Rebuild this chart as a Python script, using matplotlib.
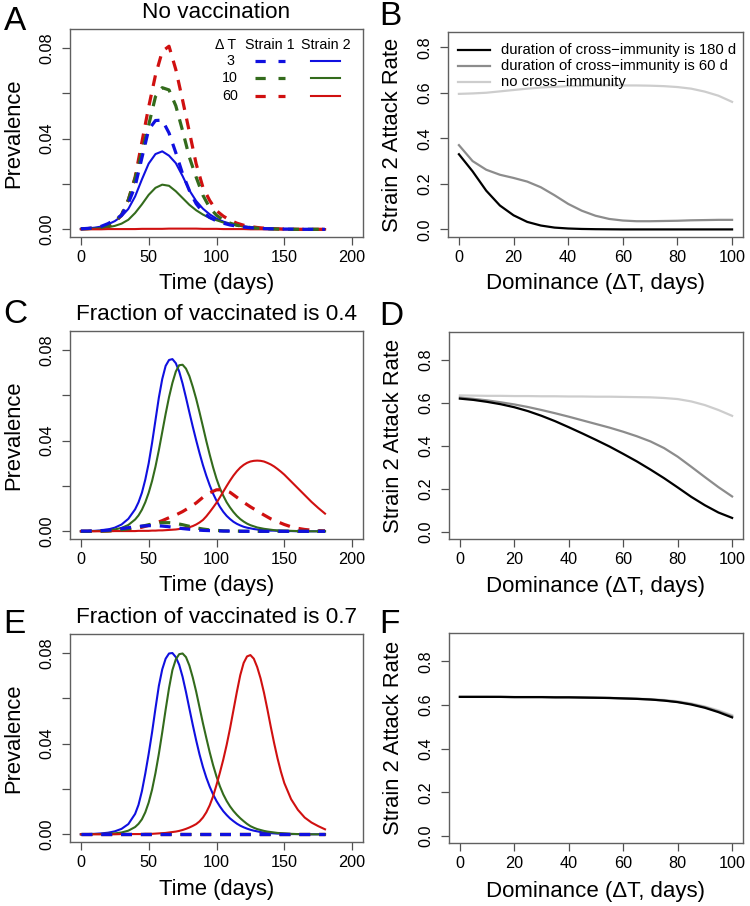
import matplotlib
matplotlib.use("Agg")
import matplotlib.pyplot as plt

plt.rcParams['font.family'] = ['Liberation Sans', 'DejaVu Sans']

# ---- data ----
days = [0, 5, 10, 15, 20, 25, 30, 35, 40, 45, 50, 55, 60, 65, 70, 75, 80, 85, 90,
        95, 100, 105, 110, 115, 120, 125, 130, 135, 140, 145, 150, 155, 160, 165,
        170, 175, 180]
# finer sampling around the sharp peaks of panels C and E (strain 2)
days_fine = [0, 5, 10, 15, 20, 25, 30, 35,
             40, 42.5, 45, 47.5, 50, 52.5, 55, 57.5, 60, 62.5,
             65, 67.5, 70, 72.5, 75, 77.5, 80, 82.5, 85, 87.5,
             90, 92.5, 95, 97.5, 100, 102.5, 105, 107.5, 110, 112.5,
             115, 117.5, 120, 122.5, 125, 127.5, 130, 132.5, 135, 137.5,
             140, 142.5, 145, 147.5, 150,
             155, 160, 165, 170, 175, 180]

# panel A: no vaccination
a_s1_dt3 = [.0002, .0004, .0007, .0013, .0025, .0042, .0062, .0115, .0190, .0315, .0440, .0480,
            .0482, .0425, .0338, .0245, .0171, .0113, .0075, .0052, .0037, .0027, .0019, .0014,
            .0010, .0007, .0005, .0003, .0002, .0002, .0001, .0001, 0, 0, 0, 0, 0]
a_s1_dt10 = [.0002, .0003, .0005, .0009, .0016, .0031, .0064, .0130, .0225, .0340, .0460, .0585,
             .0625, .0615, .0545, .0435, .0318, .0230, .0150, .0095, .0062, .0040, .0027, .0018,
             .0012, .0008, .0005, .0003, .0002, .0001, 0, 0, 0, 0, 0, 0, 0]
a_s1_dt60 = [.0002, .0003, .0005, .0009, .0015, .0030, .0063, .0130, .0230, .0385, .0540, .0680,
             .0785, .0808, .0705, .0570, .0430, .0289, .0185, .0127, .0082, .0058, .0040, .0027,
             .0018, .0012, .0008, .0005, .0003, .0002, .0001, .0001, 0, 0, 0, 0, 0]
a_s2_dt3 = [.0002, .0004, .0007, .0012, .0022, .0036, .0057, .0090, .0145, .0220, .0290, .0332,
            .0344, .0325, .0292, .0235, .0172, .0125, .0091, .0066, .0047, .0034, .0025, .0018,
            .0013, .0009, .0006, .0004, .0003, .0002, .0001, .0001, 0, 0, 0, 0, 0]
a_s2_dt10 = [.0001, .0002, .0003, .0005, .0009, .0015, .0025, .0042, .0072, .0110, .0152, .0183,
             .0197, .0192, .0168, .0138, .0108, .0084, .0065, .0050, .0040, .0030, .0023, .0017,
             .0012, .0009, .0006, .0004, .0003, .0002, .0001, .0001, 0, 0, 0, 0, 0]
a_s2_dt60 = [0, 0, 0, 0, .0001, .0001, .0001, .0001, .0001, .0002, .0002, .0002,
             .0002, .0003, .0003, .0003, .0003, .0003, .0002, .0002, .0002, .0001, .0001, .0001,
             .0001, 0, 0, 0, 0, 0, 0, 0, 0, 0, 0, 0, 0]

# panel C: 40% vaccinated (strain 1 on `days`, strain 2 on `days_fine`)
c_s1_dt3 = [.0001, .0001, .0002, .0003, .0005, .0008, .0012, .0016, .0020, .0023, .0025, .0025,
            .0023, .0020, .0016, .0012, .0009, .0006, .0004, .0003, .0002, .0001, .0001, 0,
            0, 0, 0, 0, 0, 0, 0, 0, 0, 0, 0, 0, 0]
c_s1_dt10 = [0, 0, .0001, .0001, .0002, .0004, .0007, .0011, .0016, .0022, .0029, .0035,
             .0038, .0038, .0035, .0029, .0022, .0015, .0010, .0006, .0004, .0002, .0001, .0001,
             0, 0, 0, 0, 0, 0, 0, 0, 0, 0, 0, 0, 0]
c_s1_dt60 = [0, 0, .0001, .0001, .0002, .0003, .0005, .0008, .0012, .0018, .0026, .0036,
             .0047, .0060, .0072, .0087, .0105, .0125, .0150, .0170, .0183, .0184, .0172, .0150,
             .0128, .0108, .0090, .0072, .0055, .0042, .0030, .0020, .0013, .0008, .0005, .0003, .0002]
c_s2_dt3 = [0, .0001, .0002, .0004, .0008, .0016, .0030, .0055,
            .0097, .0128, .0170, .0228, .0300, .0390, .0490, .0590, .0672, .0730,
            .0756, .0760, .0742, .0705, .0652, .0590, .0525, .0462, .0402, .0345,
            .0292, .0245, .0203, .0166, .0135, .0108, .0086, .0068, .0054, .0042,
            .0033, .0026, .0020, .0016, .0013, .0010, .0008, .0006, .0005, .0004,
            .0003, .0003, .0002, .0002, .0001,
            .0001, 0, 0, 0, 0, 0]
c_s2_dt10 = [0, .0001, .0001, .0002, .0004, .0008, .0015, .0028,
             .0052, .0070, .0095, .0128, .0170, .0222, .0285, .0358, .0438, .0518,
             .0592, .0655, .0705, .0733, .0735, .0718, .0685, .0638, .0585, .0525,
             .0462, .0398, .0338, .0282, .0232, .0190, .0157, .0128, .0105, .0085,
             .0068, .0054, .0043, .0034, .0027, .0022, .0017, .0014, .0011, .0009,
             .0007, .0005, .0004, .0003, .0003,
             .0002, .0001, 0, 0, 0, 0]
c_s2_dt60 = [0, 0, 0, 0, 0, .0001, .0001, .0001,
             .0001, .0002, .0002, .0002, .0002, .0003, .0003, .0004, .0004, .0005,
             .0006, .0007, .0008, .0010, .0012, .0015, .0018, .0023, .0030, .0039,
             .0050, .0066, .0085, .0105, .0126, .0150, .0175, .0200, .0224, .0246,
             .0265, .0281, .0293, .0302, .0308, .0311, .0312, .0311, .0308, .0302,
             .0295, .0286, .0275, .0263, .0250,
             .0220, .0190, .0160, .0130, .0103, .0078]

# panel E: 70% vaccinated
e_s1_dt3 = [0, 0, 0, 0, 0, 0, 0, 0, 0, 0, 0, 0, 0, 0, 0, 0, 0, 0, 0,
            0, 0, 0, 0, 0, 0, 0, 0, 0, 0, 0, 0, 0, 0, 0, 0, 0, 0]
e_s1_dt10 = [0, 0, 0, 0, 0, 0, 0, 0, 0, 0, 0, 0, 0, 0, 0, 0, 0, 0, 0,
             0, 0, 0, 0, 0, 0, 0, 0, 0, 0, 0, 0, 0, 0, 0, 0, 0, 0]
e_s1_dt60 = [0, 0, 0, 0, 0, 0, 0, 0, 0, 0, 0, 0, 0, 0, 0, 0, 0, 0, 0,
             0, 0, 0, 0, 0, 0, 0, 0, 0, 0, 0, 0, 0, 0, 0, 0, 0, 0]
e_s2_dt3 = [0, .0001, .0002, .0004, .0007, .0013, .0024, .0045,
            .0090, .0130, .0190, .0268, .0355, .0450, .0555, .0655, .0728, .0775,
            .0798, .0800, .0782, .0748, .0695, .0628, .0555, .0483, .0415, .0352,
            .0297, .0250, .0210, .0176, .0147, .0123, .0102, .0085, .0070, .0058,
            .0047, .0038, .0031, .0025, .0020, .0016, .0013, .0010, .0008, .0007,
            .0005, .0004, .0003, .0003, .0002,
            .0001, .0001, 0, 0, 0, 0]
e_s2_dt10 = [0, 0, .0001, .0001, .0002, .0004, .0008, .0016,
             .0032, .0046, .0066, .0097, .0140, .0197, .0270, .0355, .0450, .0550,
             .0645, .0725, .0772, .0795, .0798, .0782, .0745, .0692, .0630, .0560,
             .0490, .0425, .0362, .0305, .0255, .0212, .0176, .0147, .0123, .0103,
             .0086, .0071, .0058, .0046, .0036, .0029, .0023, .0019, .0015, .0012,
             .0010, .0008, .0006, .0005, .0004,
             .0002, .0001, .0001, 0, 0, 0]
e_s2_dt60 = [0, 0, 0, 0, 0, 0, .0001, .0001,
             .0001, .0001, .0001, .0002, .0002, .0002, .0003, .0004, .0005, .0006,
             .0008, .0010, .0012, .0015, .0019, .0024, .0030, .0037, .0045, .0057,
             .0074, .0097, .0128, .0168, .0218, .0272, .0330, .0395, .0468, .0548,
             .0628, .0702, .0756, .0785, .0791, .0775, .0738, .0688, .0625, .0552,
             .0475, .0402, .0335, .0276, .0226,
             .0155, .0108, .0074, .0052, .0036, .0022]

# right column: strain 2 attack rate vs dominance
dominance = [0, 5, 10, 15, 20, 25, 30, 35, 40, 45, 50, 55, 60, 65, 70, 75, 80, 85, 90, 95, 100]

b_180d = [.330, .255, .170, .105, .062, .033, .017, .008, .004, .002, .001, .0005, 0, 0, 0, 0,
          0, 0, 0, 0, 0]
b_60d = [.370, .300, .262, .240, .226, .210, .185, .150, .112, .082, .060, .046, .039, .036,
         .036, .037, .038, .040, .041, .042, .042]
b_none = [.595, .597, .600, .606, .612, .618, .623, .626, .629, .630, .631, .632, .632, .632,
          .631, .629, .625, .618, .605, .587, .560]

d_180d = [.620, .614, .605, .594, .580, .562, .540, .515, .487, .458, .428, .397, .363, .328,
          .290, .250, .207, .163, .124, .090, .065]
d_60d = [.625, .619, .612, .603, .593, .581, .567, .552, .536, .519, .502, .485, .466, .445,
         .421, .390, .350, .303, .255, .208, .165]
d_none = [.635, .634, .633, .633, .632, .632, .631, .631, .630, .630, .629, .629, .628, .627,
          .626, .623, .618, .607, .590, .567, .540]

f_180d = [.637, .637, .637, .637, .636, .636, .636, .635, .635, .634, .633, .632, .630, .628,
          .625, .620, .613, .602, .587, .567, .543]
f_60d = [.637, .637, .637, .637, .636, .636, .636, .635, .635, .634, .633, .632, .630, .628,
         .625, .621, .614, .604, .590, .570, .548]
f_none = [.638, .638, .638, .637, .637, .637, .637, .636, .636, .635, .634, .633, .631, .629,
          .627, .623, .617, .607, .593, .575, .553]

dt_labels = ['3', '10', '60']
strain_colors = ['#1010e0', '#336b1c', '#d01010']
ar_labels = ['duration of cross\u2212immunity is 180 d',
             'duration of cross\u2212immunity is 60 d',
             'no cross\u2212immunity']
ar_colors = ['black', '#8c8c8c', '#cdcdcd']

W, H = 750, 906
fig = plt.figure(figsize=(W / 100, H / 100), dpi=100)


def add_ax(left, top, right, bottom):
    return fig.add_axes([left / W, 1 - bottom / H, (right - left) / W, (bottom - top) / H])


def r_style(ax):
    for s in ax.spines.values():
        s.set_color('#606060')
        s.set_linewidth(1.0)
    ax.tick_params(direction='out', length=5.5, width=0.9, colors='#505050',
                   labelcolor='black', labelsize=11.7)
    ax.tick_params(axis='x', pad=4)
    ax.tick_params(axis='y', pad=5.5)


def prevalence_panel(ax, t1, s1, t2, s2, title):
    for y, c in zip(s2, strain_colors):
        ax.plot(t2, y, color=c, lw=1.5)
    # strain 1 dashed, blue drawn last so it sits on top near zero
    for y, c in zip(s1[::-1], strain_colors[::-1]):
        ax.plot(t1, y, color=c, lw=2.3, dashes=(3.4, 2.8))
    ax.set_xlim(-8, 208)
    ax.set_ylim(-0.0034, 0.0884)
    ax.set_xticks([0, 50, 100, 150, 200])
    ax.set_yticks([0, 0.02, 0.04, 0.06, 0.08])
    ax.set_yticklabels(['0.00', '', '0.04', '', '0.08'], rotation=90, va='center')
    r_style(ax)
    ax.set_title(title, fontsize=16.2, pad=7.7)
    ax.set_xlabel('Time (days)', fontsize=15.8, va='center')
    ax.xaxis.set_label_coords(0.5, -(284 - 237) / 208)
    ax.set_ylabel('Prevalence', fontsize=15.8, va='center')
    ax.yaxis.set_label_coords((14 - 70) / 293, 0.5)


def attack_panel(ax, series, ylim):
    for y, c in zip(series[::-1], ar_colors[::-1]):
        ax.plot(dominance, y, color=c, lw=1.6)
    ax.set_xlim(-4, 104)
    ax.set_ylim(*ylim)
    ax.set_xticks([0, 20, 40, 60, 80, 100])
    ax.set_yticks([0, 0.2, 0.4, 0.6, 0.8])
    ax.set_yticklabels(['0.0', '0.2', '0.4', '0.6', '0.8'], rotation=90, va='center')
    r_style(ax)
    ax.set_xlabel('Dominance (\u0394T, days)', fontsize=16, va='center')
    ax.xaxis.set_label_coords(0.5, -(284 - 237) / 205)
    ax.set_ylabel('Strain 2 Attack Rate', fontsize=15.8, va='center')
    ax.yaxis.set_label_coords((392 - 448) / 295, 0.5)


axA = add_ax(70, 29, 363, 237)
axB = add_ax(448, 32, 743, 237)
axC = add_ax(70, 331, 363, 539)
axD = add_ax(449, 332, 743, 539)
axE = add_ax(70, 634, 363, 842)
axF = add_ax(449, 633, 743, 843)

prevalence_panel(axA, days, [a_s1_dt3, a_s1_dt10, a_s1_dt60],
                 days, [a_s2_dt3, a_s2_dt10, a_s2_dt60], 'No vaccination')
prevalence_panel(axC, days, [c_s1_dt3, c_s1_dt10, c_s1_dt60],
                 days_fine, [c_s2_dt3, c_s2_dt10, c_s2_dt60], 'Fraction of vaccinated is 0.4')
prevalence_panel(axE, days, [e_s1_dt3, e_s1_dt10, e_s1_dt60],
                 days_fine, [e_s2_dt3, e_s2_dt10, e_s2_dt60], 'Fraction of vaccinated is 0.7')

attack_panel(axB, [b_180d, b_60d, b_none], (-0.0333, 0.8667))
attack_panel(axD, [d_180d, d_60d, d_none], (-0.033, 0.93))
attack_panel(axF, [f_180d, f_60d, f_none], (-0.033, 0.93))

# legend of panel A (hand-placed, like R's text/segments)
tA = axA.transAxes
axA.text((226 - 70) / 293, 0.923, '\u0394 T', transform=tA, ha='center', va='center', fontsize=10.3)
axA.text((270 - 70) / 293, 0.923, 'Strain 1', transform=tA, ha='center', va='center', fontsize=10.3)
axA.text((326 - 70) / 293, 0.923, 'Strain 2', transform=tA, ha='center', va='center', fontsize=10.3)
for i, (lab, c) in enumerate(zip(dt_labels, strain_colors)):
    yy = [0.846, 0.764, 0.678][i]
    axA.text((230 - 70) / 293, yy, lab, transform=tA, ha='center', va='center', fontsize=10.3)
    axA.plot([(255 - 70) / 293, (285 - 70) / 293], [yy, yy], transform=tA, color=c,
             lw=2.3, dashes=(3.2, 4.0))
    axA.plot([(311 - 70) / 293, (340 - 70) / 293], [yy, yy], transform=tA, color=c, lw=1.5)

# legend of panel B
tB = axB.transAxes
for i, (lab, c) in enumerate(zip(ar_labels, ar_colors)):
    yy = (237 - [50, 66, 82][i]) / 205
    axB.plot([(458 - 448) / 295, (490 - 448) / 295], [yy, yy], transform=tB, color=c, lw=1.6)
    axB.text((501 - 448) / 295, yy, lab, transform=tB, ha='left', va='center', fontsize=10.7)

# panel letters
for lab, x, y in [('A', 4, 30), ('B', 379, 25), ('C', 3, 323), ('D', 379, 325),
                  ('E', 3, 633), ('F', 379, 633)]:
    fig.text(x / W, 1 - y / H, lab, fontsize=24, ha='left', va='baseline')

fig.savefig('out.png', dpi=100)
